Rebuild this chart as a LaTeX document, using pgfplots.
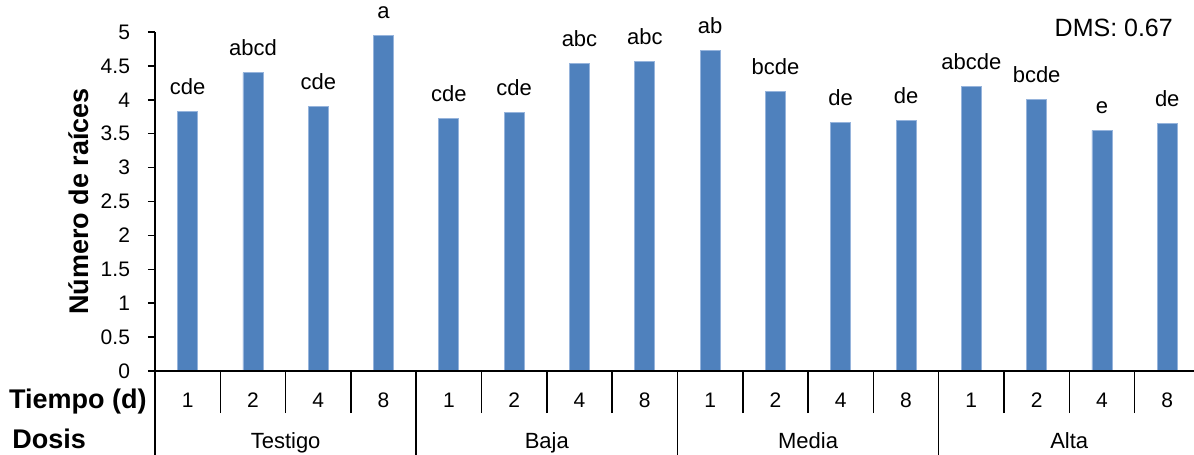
\documentclass[border=0pt]{standalone}
\usepackage{fontspec}
\setmainfont{Liberation Sans}
\usepackage{pgfplots}
\usepackage{pgfplotstable}
\pgfplotsset{compat=1.18}
\definecolor{barblue}{HTML}{4F81BD}
\definecolor{baredge}{RGB}{150,180,220}
\pgfplotstableread{
x y lab
0 3.83 cde
1 4.40 abcd
2 3.90 cde
3 4.95 a
4 3.72 cde
5 3.81 cde
6 4.53 abc
7 4.57 abc
8 4.73 ab
9 4.12 bcde
10 3.67 de
11 3.70 de
12 4.20 abcde
13 4.00 bcde
14 3.55 e
15 3.65 de
}\datatable
\begin{document}
\begin{tikzpicture}
\pgfplotsset{common/.style={scale only axis, width=519.5pt, height=169.5pt,
  xmin=-0.5, xmax=15.41, ymin=0, ymax=5,
  axis line style={line width=0.75pt, black},
  tick style={line width=0.75pt, black},
  tick align=outside}}
\begin{axis}[common, name=ax,
  axis x line*=bottom, axis y line*=left,
  ybar, bar width=10pt, clip=false,
  ytick={0,0.5,1,1.5,2,2.5,3,3.5,4,4.5,5},
  major tick length=3.5pt,
  /pgf/number format/assume math mode=true,
  yticklabel style={font=\fontsize{10.5}{12}\selectfont, xshift=-5.5pt},
  xtick=\empty,
  ylabel={Número de raíces},
  ylabel style={at={(axis description cs:-0.0731,0.5)}, anchor=center, font=\bfseries\fontsize{13.5}{15}\selectfont},
  nodes near coords,
  point meta=explicit symbolic,
  every node near coord/.append style={anchor=base, yshift=8.5pt, font=\fontsize{11}{12}\selectfont, black},
]
\addplot[fill=barblue, draw=baredge, line width=0.4pt] table[x=x, y=y, meta=lab] {\datatable};
\node[inner sep=0pt, anchor=base east, font=\bfseries\fontsize{13.5}{15}\selectfont] at ([xshift=-4pt, yshift=-18.5pt]rel axis cs:0,0) {Tiempo (d)};
\node[inner sep=0pt, anchor=base west, font=\bfseries\fontsize{13.5}{15}\selectfont] at ([xshift=-71.5pt, yshift=-38.5pt]rel axis cs:0,0) {Dosis};
\node[anchor=base, font=\fontsize{11}{12}\selectfont] at ([yshift=-38.5pt]axis cs:1.5,0) {Testigo};
\node[anchor=base, font=\fontsize{11}{12}\selectfont] at ([yshift=-38.5pt]axis cs:5.5,0) {Baja};
\node[anchor=base, font=\fontsize{11}{12}\selectfont] at ([yshift=-38.5pt]axis cs:9.5,0) {Media};
\node[anchor=base, font=\fontsize{11}{12}\selectfont] at ([yshift=-38.5pt]axis cs:13.5,0) {Alta};
\node[inner sep=0pt, anchor=base east, font=\fontsize{12.5}{14}\selectfont] at ([yshift=-2.4pt]rel axis cs:0.98,1) {DMS: 0.67};
\end{axis}
\begin{axis}[common, hide y axis, axis x line*=bottom,
  xtick={-0.5,3.5,7.5,11.5}, xticklabels={},
  major tick length=43pt]
\end{axis}
\begin{axis}[common, hide y axis, axis x line*=bottom,
  xtick={0,...,15},
  xticklabels={1,2,4,8,1,2,4,8,1,2,4,8,1,2,4,8},
  major tick length=0pt,
  minor xtick={0.5,1.5,2.5,4.5,5.5,6.5,8.5,9.5,10.5,12.5,13.5,14.5},
  minor tick length=21pt,
  xticklabel style={font=\fontsize{10.5}{12}\selectfont, anchor=base, yshift=-18.3pt}]
\end{axis}
\pgfresetboundingbox
\path[use as bounding box] ([shift={(-77.5pt,-42pt)}]ax.south west) rectangle ++(597pt,227.5pt);
\end{tikzpicture}
\end{document}
